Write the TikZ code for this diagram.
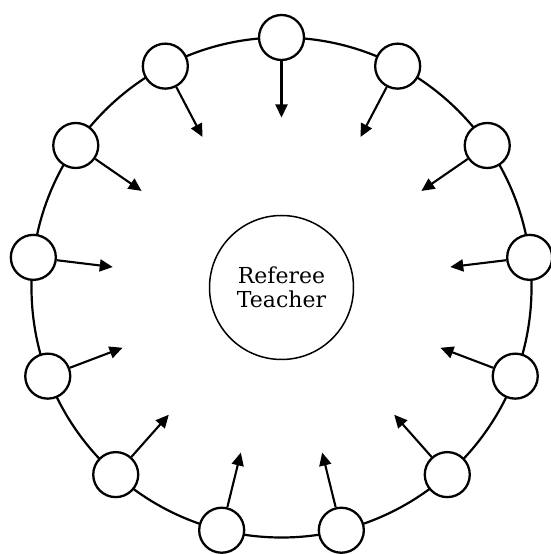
\documentclass[tikz,border=0pt]{standalone}
\usepackage{fontspec}
\setmainfont{DejaVu Serif}
\usetikzlibrary{arrows.meta,calc}
\begin{document}
\begin{tikzpicture}[x=1pt,y=1pt,
  ring/.style={line width=2.2pt},
  pupil/.style={circle,draw,line width=2.3pt,fill=white,minimum size=45pt,inner sep=0pt},
  pass/.style={line width=2.1pt,-{Triangle[length=13pt,width=12pt]}},
  referee/.style={circle,draw,line width=1.5pt,minimum size=144pt,inner sep=0pt,align=center,font=\fontsize{22}{24}\selectfont}]
\useasboundingbox (0,0) rectangle (551,554);
\coordinate (C) at (281.5,266.5);
\draw[ring] (C) circle (250pt);
\node[referee] (ref) at (C) {Referee\\Teacher};
\foreach \k in {0,...,12}{
  \pgfmathsetmacro{\a}{90+\k*360/13}
  \node[pupil] (s\k) at ($(C)+(\a:250pt)$) {};
  \coordinate (t\k) at ($(C)+(\a:170pt)$);
  \draw[pass] (s\k) -- (t\k);
}
\end{tikzpicture}
\end{document}
